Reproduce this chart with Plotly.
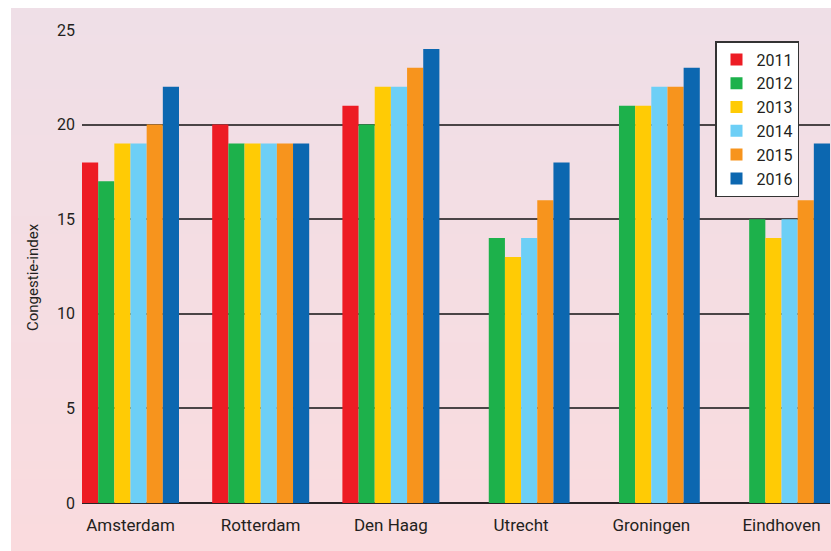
import plotly.graph_objects as go

cities = ["Amsterdam", "Rotterdam", "Den Haag", "Utrecht", "Groningen", "Eindhoven"]
years = ["2011", "2012", "2013", "2014", "2015", "2016"]
v2011 = [18, 20, 21, None, None, None]
v2012 = [17, 19, 20, 14, 21, 15]
v2013 = [19, 19, 22, 13, 21, 14]
v2014 = [19, 19, 22, 14, 22, 15]
v2015 = [20, 19, 23, 16, 22, 16]
v2016 = [22, 19, 24, 18, 23, 19]
series = [v2011, v2012, v2013, v2014, v2015, v2016]
colors = ["#ed1c24", "#1db14b", "#ffcb05", "#6dcff6", "#f7941d", "#0c67b0"]
yticks = [0, 5, 10, 15, 20, 25]

W, H = 831, 551
ML, MR, MT, MB = 82, 1, 30, 48
PW, PH = W - ML - MR, H - MT - MB

def px_x(p):
    return (p - ML) / PW

def px_y(p):
    return (H - MB - p) / PH

fig = go.Figure()
xpos = list(range(len(cities)))
for name, vals, col in zip(years, series, colors):
    fig.add_trace(go.Bar(x=xpos, y=vals, name=name, marker=dict(color=col, line=dict(width=0))))

# gradient background strips
shapes = []
n = 60
top_c = (239, 223, 231)
bot_c = (250, 219, 222)
y0p, y1p = 8, H
for i in range(n):
    a = y0p + (y1p - y0p) * i / n
    b = y0p + (y1p - y0p) * (i + 1) / n + 1
    t = i / (n - 1)
    c = tuple(round(top_c[k] + (bot_c[k] - top_c[k]) * t) for k in range(3))
    shapes.append(dict(type="rect", xref="paper", yref="paper", layer="below",
                       x0=px_x(11), x1=px_x(W + 2), y0=px_y(b), y1=px_y(a),
                       fillcolor="rgb(%d,%d,%d)" % c, line=dict(width=0)))

gap = 0.255
fig.update_layout(
    width=W, height=H,
    margin=dict(l=ML, r=MR, t=MT, b=MB),
    paper_bgcolor="white",
    plot_bgcolor="rgba(0,0,0,0)",
    barmode="group", bargap=gap, bargroupgap=0,
    font=dict(family="Roboto", color="#231f20"),
    shapes=shapes,
    xaxis=dict(range=[-0.5 + gap / 2, len(cities) - 0.5 - gap / 2], tickvals=xpos, ticktext=cities,
               showgrid=False, zeroline=False, showline=False, ticks="",
               tickfont=dict(size=17), ticklabelstandoff=10),
    yaxis=dict(range=[0, 25], tickvals=yticks, showgrid=True, gridcolor="#4a4446", gridwidth=1.6,
               zeroline=True, zerolinecolor="#2a2426", zerolinewidth=1.6, showline=False,
               tickfont=dict(size=16), ticks="", ticklabelstandoff=6),
    legend=dict(x=px_x(715), y=px_y(41), xanchor="left", yanchor="top",
                bgcolor="white", bordercolor="#333333", borderwidth=1.5,
                font=dict(size=16), itemclick=False),
    annotations=[dict(text="Congestie-index", xref="paper", yref="paper",
                      x=px_x(33), y=px_y(277), textangle=-90, showarrow=False,
                      font=dict(size=15), xanchor="center", yanchor="middle")],
)

fig.write_html("out.html")
